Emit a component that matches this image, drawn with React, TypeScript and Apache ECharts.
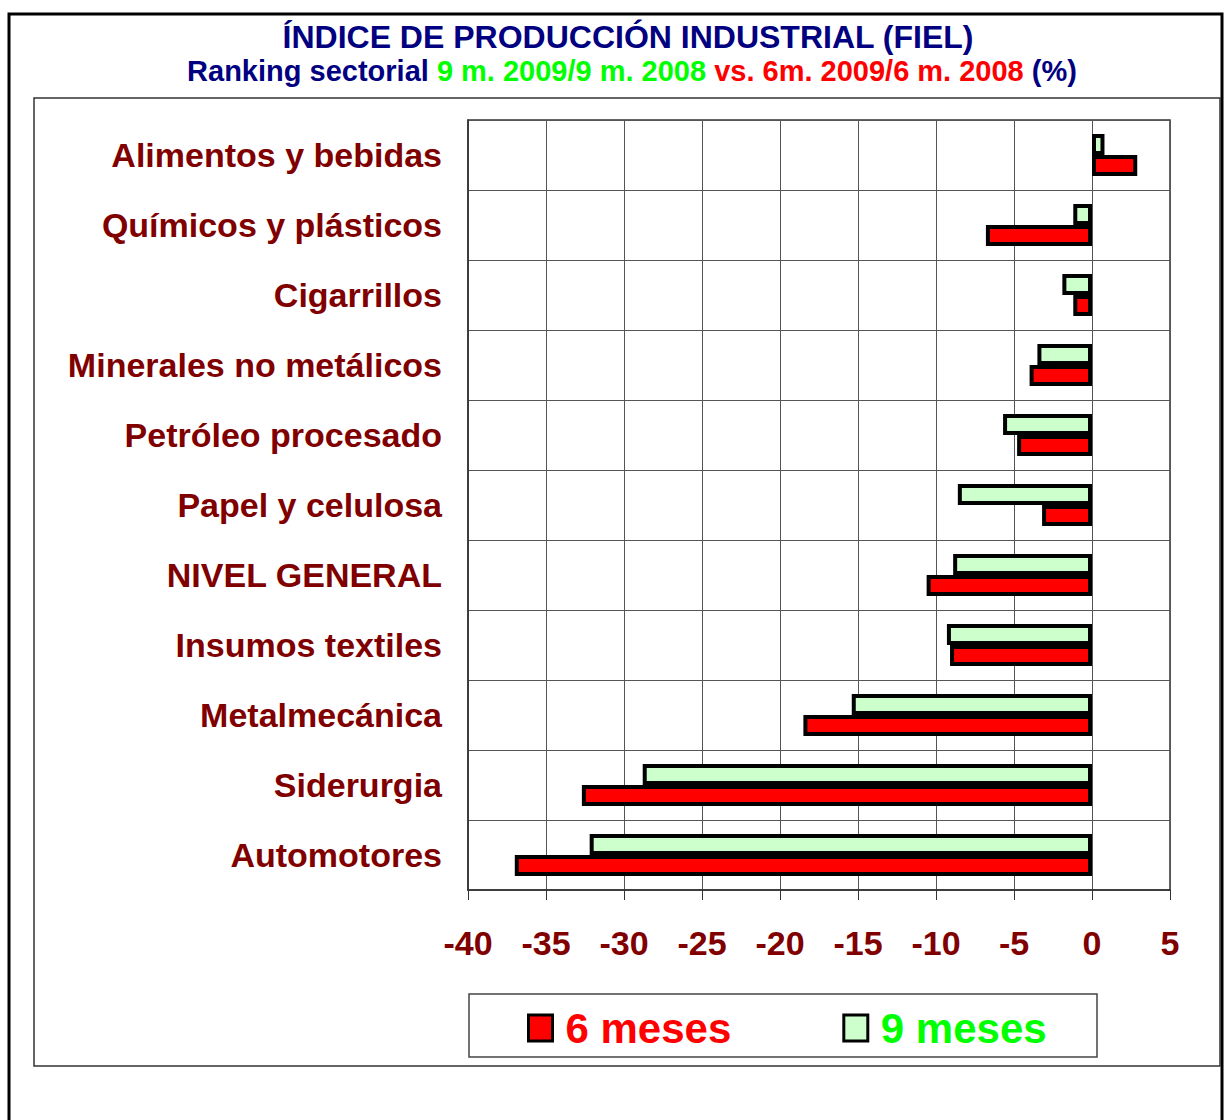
import React, { useEffect, useRef } from "react";
import * as echarts from "echarts";

const categories = [
  "Alimentos y bebidas",
  "Químicos y plásticos",
  "Cigarrillos",
  "Minerales no metálicos",
  "Petróleo procesado",
  "Papel y celulosa",
  "NIVEL GENERAL",
  "Insumos textiles",
  "Metalmecánica",
  "Siderurgia",
  "Automotores",
];

const nueveMeses = [0.8, -1.2, -1.9, -3.5, -5.7, -8.6, -8.9, -9.3, -15.4, -28.8, -32.2];
const seisMeses = [2.9, -6.8, -1.2, -4.0, -4.8, -3.2, -10.6, -9.1, -18.5, -32.7, -37.0];

const xTicks = [-40, -35, -30, -25, -20, -15, -10, -5, 0, 5];

const FONT = "'Liberation Sans', Arial, sans-serif";
const DARK_RED = "#800000";
const NAVY = "#000080";

export default function App() {
  const ref = useRef<HTMLDivElement>(null);

  useEffect(() => {
    if (!ref.current) return;
    const chart = echarts.init(ref.current, null, { renderer: "svg" });
    chart.setOption({
      animation: false,
      backgroundColor: "#ffffff",
      graphic: [
        {
          type: "rect",
          shape: { x: 9, y: 14, width: 1213, height: 1130 },
          style: { fill: "none", stroke: "#000", lineWidth: 3 },
          silent: true,
        },
        {
          type: "rect",
          shape: { x: 34, y: 98, width: 1186, height: 968 },
          style: { fill: "none", stroke: "#333", lineWidth: 1.5 },
          silent: true,
        },
        {
          type: "rect",
          shape: { x: 469, y: 994, width: 628, height: 63 },
          style: { fill: "none", stroke: "#444", lineWidth: 1.5 },
          silent: true,
        },
        {
          type: "text",
          x: 628,
          y: 37,
          style: {
            text: "ÍNDICE DE PRODUCCIÓN INDUSTRIAL (FIEL)",
            font: `bold 32px ${FONT}`,
            fill: NAVY,
            align: "center",
            verticalAlign: "middle",
          },
        },
        {
          type: "text",
          x: 632,
          y: 71,
          style: {
            text:
              "{n|Ranking sectorial }{g|9 m. 2009/9 m. 2008}{r| vs. 6m. 2009/6 m. 2008}{n| (%)}",
            align: "center",
            verticalAlign: "middle",
            rich: {
              n: { fontFamily: FONT, fontWeight: "bold", fontSize: 29, fill: NAVY, color: NAVY },
              g: { fontFamily: FONT, fontWeight: "bold", fontSize: 29, fill: "#00ff00", color: "#00ff00" },
              r: { fontFamily: FONT, fontWeight: "bold", fontSize: 29, fill: "#ff0000", color: "#ff0000" },
            },
          },
        },
      ],
      legend: {
        data: [
          { name: "6 meses", icon: "rect", textStyle: { color: "#ff0000" } },
          { name: "9 meses", icon: "rect", textStyle: { color: "#00ff00" } },
        ],
        left: 527,
        top: 1007,
        itemWidth: 24,
        itemHeight: 26,
        itemGap: 111,
        padding: 0,
        selectedMode: false,
        itemStyle: { borderColor: "#000", borderWidth: 3 },
        textStyle: {
          fontFamily: FONT,
          fontWeight: "bold",
          fontSize: 42,
          padding: [0, 0, 0, 8],
        },
      },
      grid: {
        left: 468,
        top: 120,
        width: 702,
        height: 770,
        show: true,
        borderColor: "#333",
        borderWidth: 1.5,
        containLabel: false,
      },
      xAxis: {
        type: "value",
        min: -40,
        max: 5,
        interval: 5,
        position: "bottom",
        axisLine: { show: true, onZero: false, lineStyle: { color: "#333", width: 1.5 } },
        axisTick: { show: true, inside: false, length: 10, lineStyle: { color: "#333" } },
        splitLine: { show: true, lineStyle: { color: "#555", width: 1 } },
        axisLabel: {
          color: DARK_RED,
          fontFamily: FONT,
          fontWeight: "bold",
          fontSize: 34,
          margin: 36,
          formatter: (v: number) => (xTicks.includes(v) ? String(v) : ""),
        },
      },
      yAxis: {
        type: "category",
        inverse: true,
        data: categories,
        axisLine: { show: true, onZero: false, lineStyle: { color: "#333", width: 1.5 } },
        axisTick: { show: false },
        splitLine: { show: true, lineStyle: { color: "#555", width: 1 } },
        axisLabel: {
          color: DARK_RED,
          fontFamily: FONT,
          fontWeight: "bold",
          fontSize: 34,
          margin: 26,
        },
      },
      series: [
        {
          name: "9 meses",
          type: "bar",
          data: nueveMeses,
          barCategoryGap: "40%",
          barGap: "0%",
          itemStyle: { color: "#ccffcc", borderColor: "#000", borderWidth: 4 },
        },
        {
          name: "6 meses",
          type: "bar",
          data: seisMeses,
          barCategoryGap: "40%",
          barGap: "0%",
          itemStyle: { color: "#ff0000", borderColor: "#000", borderWidth: 4 },
        },
      ],
    });
    return () => chart.dispose();
  }, []);

  return (
    <div
      ref={ref}
      style={{ position: "absolute", left: 0, top: 0, width: 1225, height: 1120 }}
    />
  );
}
